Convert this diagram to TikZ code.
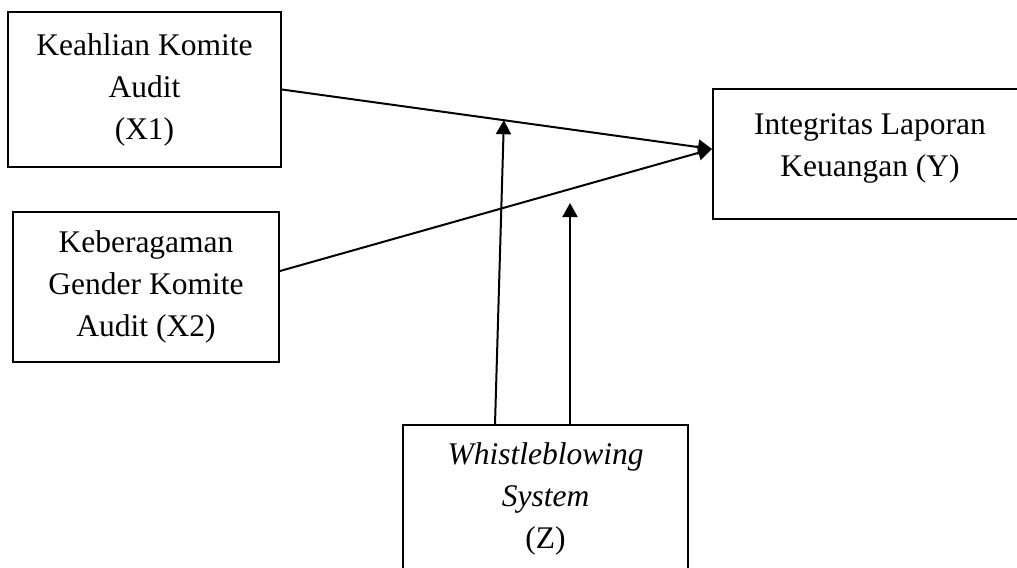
\documentclass[tikz,border=0pt]{standalone}
\usepackage{fontspec}
\setmainfont{Liberation Serif}
\usetikzlibrary{calc,arrows.meta}

\begin{document}
\begin{tikzpicture}[
  x=0.4pt, y=-0.4pt,
  font=\fontsize{12.6}{16.8}\selectfont,
  box/.style={draw, line width=0.8pt, align=center, inner sep=0pt},
  arr/.style={-{Triangle[length=5.6pt, width=6pt]}, line width=0.8pt}
]
\useasboundingbox (0,0) rectangle (1017,567);

% Variabel independen
\node[box, minimum width=109.2pt, minimum height=62pt] (keahlian) at (144.5,89.5) {Keahlian Komite\\Audit\\(X1)};
\node[box, minimum width=106.4pt, minimum height=60pt] (gender) at (146,287) {Keberagaman\\Gender Komite\\Audit (X2)};

% Variabel dependen
\node[box, minimum width=125.6pt, minimum height=52pt, text depth=7.5pt] (integritas) at (870,154) {Integritas Laporan\\Keuangan (Y)};

% Variabel moderasi
\node[box, minimum width=114pt, minimum height=59.2pt] (wbs) at (545.5,499) {\textit{Whistleblowing}\\\textit{System}\\(Z)};

% Titik ujung panah
\coordinate (ujung) at ([yshift=2pt]integritas.west);
\coordinate (m1) at ($(keahlian.east)!0.516!(ujung)$);
\coordinate (m2) at (570,203);

% Panah pengaruh
\draw[arr] (keahlian.east) -- (ujung);
\draw[arr] ([yshift=6.4pt]gender.east) -- (ujung);
\draw[arr] ([xshift=37.2pt]wbs.north west) -- (m1);
\draw[arr] (m2 |- wbs.north) -- (m2);

\end{tikzpicture}
\end{document}
